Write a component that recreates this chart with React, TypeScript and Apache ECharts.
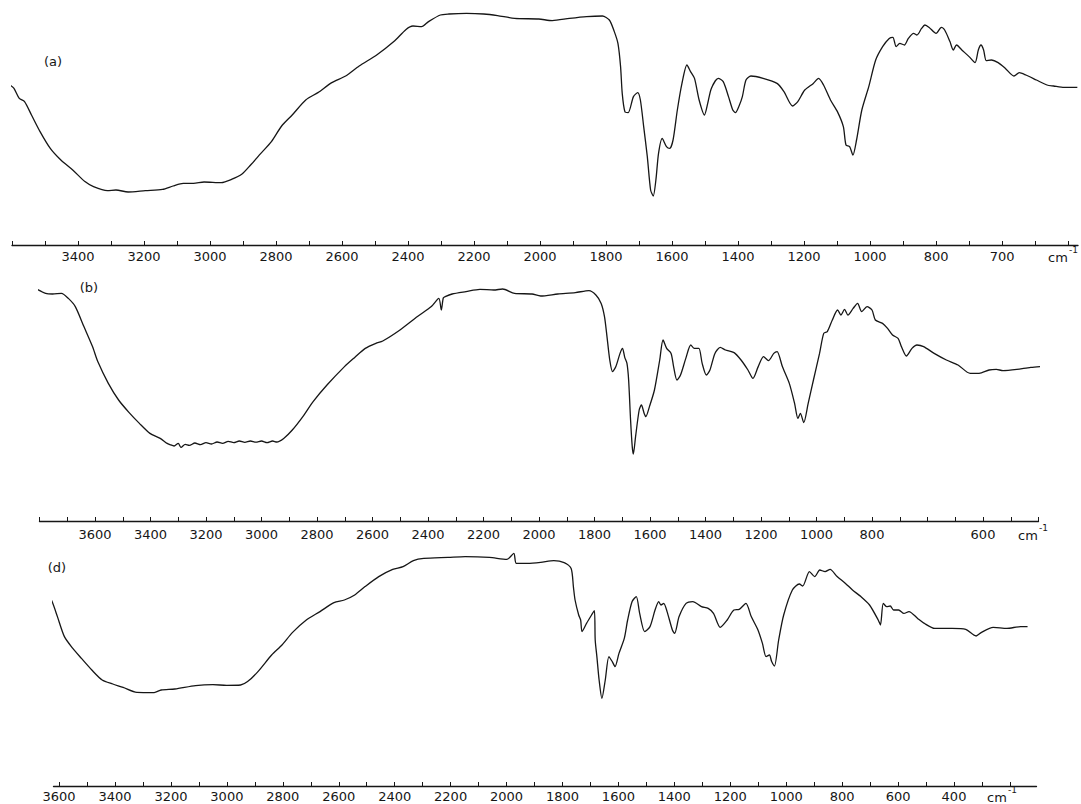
import React, { useEffect, useRef } from "react";
import * as echarts from "echarts";

// ---- tick labels (cm^-1) printed under each spectrum ----
const tickLabelsA = [3400, 3200, 3000, 2800, 2600, 2400, 2200, 2000, 1800, 1600, 1400, 1200, 1000, 800, 700];
const tickLabelsB = [3600, 3400, 3200, 3000, 2800, 2600, 2400, 2200, 2000, 1800, 1600, 1400, 1200, 1000, 800, 600];
const tickLabelsD = [3600, 3400, 3200, 3000, 2800, 2600, 2400, 2200, 2000, 1800, 1600, 1400, 1200, 1000, 800, 600, 400];

const panelNames = ["(a)", "(b)", "(d)"];

// ---- spectrum (a) ----
const wavenumbersA = [
  3606, 3594, 3578, 3562, 3541, 3515, 3484, 3452, 3416, 3379, 3353, 3311, 3285, 3248, 3196, 3144, 3112, 3081, 3050, 3018,
  2966, 2935, 2903, 2877, 2846, 2814, 2783, 2751, 2710, 2673, 2631, 2589, 2548, 2495, 2443, 2406, 2385, 2359, 2338, 2302,
  2276, 2223, 2171, 2129, 2077, 2004, 1963, 1911, 1859, 1811, 1790, 1775, 1764, 1756, 1751, 1743, 1733, 1717, 1704, 1696,
  1686, 1675, 1665, 1657, 1649, 1641, 1630, 1617, 1607, 1597, 1584, 1570, 1555, 1544, 1532, 1518, 1502, 1492, 1481, 1460,
  1445, 1429, 1416, 1408, 1397, 1387, 1376, 1361, 1324, 1282, 1261, 1235, 1219, 1198, 1172, 1156, 1141, 1120, 1099, 1081,
  1073, 1062, 1052, 1041, 1025, 1004, 983, 962, 942, 931, 921, 910, 896, 884, 868, 858, 844, 834, 821, 800,
  792, 787, 779, 774, 769, 761, 750, 741, 736, 732, 728, 724, 716, 706, 695, 682, 674, 664, 648, 632,
  622, 606, 586,
];
const transmittanceA = [
  80, 78.3, 73.3, 71.7, 65, 56.7, 48.3, 42.5, 37.5, 31.7, 29.2, 27.2, 27.5, 26.5, 27.2, 27.8, 29.5, 30.8, 30.8, 31.5,
  31.2, 32.8, 35.5, 40, 45.8, 51.7, 59.5, 65, 72.5, 76.2, 81.2, 84.5, 89.5, 95, 101.7, 107.8, 109.5, 109.2, 111.7, 115,
  115.5, 115.8, 115.5, 114.7, 113.3, 113, 112.2, 113.3, 114.2, 114.5, 112.5, 106.7, 100.8, 89.2, 75.8, 66.7, 66.2, 74.2, 76.2, 72.5,
  59.2, 44.2, 27.5, 24.5, 32.5, 45.8, 53.3, 49.2, 48.3, 52.5, 67.5, 80.8, 90, 86.7, 83.3, 72.5, 65, 70.8, 78.3, 83.3,
  81.7, 74.2, 67.5, 66.2, 69.5, 74.2, 82.5, 84.5, 83.3, 80.8, 76.7, 69.5, 71.7, 77.5, 80.8, 83.3, 80, 72.5, 66.7, 59.2,
  50, 49.2, 45, 52.5, 67.5, 79.2, 92.5, 99.2, 103.3, 103.8, 99.2, 100.8, 100, 103.3, 105.8, 105, 108.3, 110, 108.8, 105.8,
  108.8, 107.5, 101.7, 97.5, 100, 97.5, 94.2, 91.2, 97.5, 100, 97.5, 92.2, 92.5, 91.2, 88.3, 84.5, 86.2, 85, 82.5, 80,
  79.5, 78.8, 78.8,
];

// ---- spectrum (b) ----
const wavenumbersB = [
  3815, 3778, 3753, 3721, 3696, 3671, 3640, 3609, 3590, 3552, 3515, 3477, 3440, 3402, 3365, 3340, 3330, 3315, 3300, 3290,
  3275, 3260, 3240, 3220, 3200, 3180, 3160, 3140, 3120, 3100, 3080, 3060, 3040, 3020, 3000, 2980, 2960, 2945, 2920, 2889,
  2851, 2814, 2764, 2701, 2664, 2626, 2588, 2563, 2501, 2438, 2388, 2361, 2352, 2345, 2338, 2313, 2263, 2213, 2163, 2131,
  2088, 2025, 1994, 1932, 1869, 1820, 1795, 1776, 1764, 1755, 1745, 1735, 1723, 1708, 1699, 1691, 1683, 1677, 1670, 1664,
  1660, 1652, 1639, 1631, 1621, 1615, 1602, 1584, 1565, 1553, 1540, 1524, 1515, 1503, 1490, 1471, 1453, 1440, 1424, 1412,
  1397, 1384, 1366, 1347, 1328, 1297, 1272, 1247, 1229, 1210, 1191, 1173, 1154, 1142, 1123, 1098, 1079, 1067, 1058, 1046,
  1030, 1011, 989, 974, 961, 943, 924, 912, 899, 887, 868, 852, 837, 818, 800, 794, 781, 772, 763, 753,
  747, 738, 728, 719, 707, 688, 666, 645, 623, 607, 589, 576, 564, 539, 514, 484,
];
const transmittanceB = [
  116.3, 113.8, 113.5, 113.8, 111.3, 107.2, 97.2, 87.2, 79.7, 68.8, 60.5, 54.2, 48.8, 43.8, 41.3, 38.8, 38.2, 37.5, 38.8, 36.8,
  38.3, 37.8, 39, 38.2, 39.2, 38.5, 39.5, 38.8, 39.8, 39.2, 40, 39.3, 40, 39.4, 40, 39.2, 40, 39.5, 41.3, 45.5,
  52.2, 59.7, 68, 77.2, 81.8, 86.3, 88.8, 90, 95.5, 102.2, 107.2, 111.3, 105.5, 111.5, 112.2, 113.5, 114.7, 115.8, 115.5, 116,
  113.8, 113.5, 112.5, 113.5, 114.2, 115.2, 113, 108.8, 102.2, 92.2, 80.5, 74.7, 77.2, 83.8, 86.3, 81.8, 78.8, 70.5, 50.5, 37.2,
  33.5, 42.2, 55.5, 58, 53.8, 52.2, 57.2, 65.5, 80.5, 90.5, 86.3, 83.8, 77.2, 70.5, 73, 81.3, 88, 86.3, 86.3, 78.8,
  73, 75.5, 83.8, 86.8, 85.5, 84.2, 80.5, 75.5, 71.3, 77.2, 82.2, 80.2, 83.8, 84.7, 77.2, 68.8, 58.8, 51.3, 53.8, 49.2,
  58.8, 70.5, 83.8, 93.8, 94.7, 100.5, 105.5, 103, 105.8, 103, 106.3, 108.8, 104.7, 107.2, 105.5, 100.5, 98.8, 96.3, 93, 91.3,
  87.2, 82.5, 86.3, 88, 87.2, 83.8, 80.5, 78, 73.8, 73.8, 75.5, 75.8, 75.2, 75.8, 76.8, 77.5,
];

// ---- spectrum (d) ----
const wavenumbersD = [
  3662, 3643, 3625, 3606, 3581, 3551, 3520, 3483, 3446, 3408, 3371, 3322, 3260, 3235, 3186, 3112, 3050, 3001, 2951, 2926,
  2889, 2840, 2803, 2766, 2716, 2667, 2617, 2580, 2543, 2506, 2457, 2407, 2370, 2333, 2296, 2209, 2148, 2061, 1999, 1974,
  1965, 1925, 1878, 1831, 1794, 1769, 1761, 1755, 1742, 1735, 1730, 1714, 1696, 1686, 1683, 1677, 1669, 1659, 1647, 1634,
  1622, 1612, 1598, 1579, 1567, 1551, 1536, 1524, 1506, 1487, 1469, 1456, 1448, 1438, 1426, 1407, 1399, 1383, 1358, 1334,
  1303, 1279, 1260, 1236, 1211, 1187, 1168, 1144, 1125, 1101, 1085, 1072, 1060, 1052, 1042, 1027, 1009, 978, 953, 941,
  917, 898, 880, 861, 843, 818, 788, 763, 733, 702, 671, 663, 653, 641, 628, 616, 598, 579, 561, 530,
  506, 469, 407, 358, 321, 303, 260, 211, 162, 137,
];
const transmittanceD = [
  99.2, 97.2, 92.2, 84.7, 74.7, 68.8, 63.8, 58, 53, 51, 49.3, 46.8, 46.7, 48, 48.5, 50.2, 50.7, 50.3, 50.5, 52.2,
  57.2, 65.5, 70.5, 76.7, 83, 87.2, 91.7, 93, 95.5, 99.7, 104.7, 108.3, 109.7, 112.7, 113.8, 114.3, 114.7, 114.3, 113.3, 116.3,
  111.3, 111.3, 111.8, 112.7, 111.7, 108.8, 99.7, 93, 85.5, 83, 77.2, 81.3, 85.5, 87.7, 73, 64.7, 53, 43.8, 53, 64.7,
  62.2, 59.7, 66.3, 73.8, 83, 92.2, 94.7, 86.3, 77.2, 79.7, 88, 92.2, 90.5, 91.3, 87.2, 78, 76.3, 84.7, 91.3, 92.2,
  89.7, 88.8, 86.3, 79.3, 83, 88, 88.3, 91.3, 84.7, 78, 71.3, 64.7, 65.5, 62.2, 60, 73, 85.5, 98, 101, 100,
  107.2, 104.7, 108, 107.2, 108.3, 104.7, 101.3, 98, 94.7, 90.5, 83, 80.5, 91.3, 89.7, 90, 88, 88, 86.3, 87.2, 83.8,
  81.3, 78.8, 78.8, 78.3, 75, 76.7, 79.3, 78.8, 79.7, 79.7,
];

// Chart-paper position: linear in wavenumber, with the scale spread twofold below 800 cm^-1
// on the instrument used for spectra (a) and (b).
const BREAK_WN = 800;
function toPos(w: number, expanded: boolean): number {
  if (!expanded || w >= BREAK_WN) return 2000 - w;
  return 2000 - BREAK_WN + 2 * (BREAK_WN - w);
}
function fromPos(p: number, expanded: boolean): number {
  if (!expanded || p <= 2000 - BREAK_WN) return 2000 - p;
  return BREAK_WN - (p - (2000 - BREAK_WN)) / 2;
}
function stepList(from: number, to: number, step: number): number[] {
  const out: number[] = [];
  for (let v = from; v >= to; v -= step) out.push(v);
  return out;
}

type Panel = {
  wn: number[];
  t: number[];
  labels: number[];
  ticks: number[];
  expanded: boolean;
  wnMax: number;
  wnMin: number;
  grid: { left: number; width: number; top: number; height: number };
  labelMargin: number;
};

const panels: Panel[] = [
  {
    wn: wavenumbersA, t: transmittanceA, labels: tickLabelsA,
    ticks: [...stepList(3600, 800, 100), 750, 700, 650, 600],
    expanded: true, wnMax: 3600, wnMin: 585,
    grid: { left: 12, width: 1066, top: 5, height: 240 }, labelMargin: 5,
  },
  {
    wn: wavenumbersB, t: transmittanceB, labels: tickLabelsB,
    ticks: [...stepList(3800, 800, 100), 750, 700, 650, 600, 550, 500],
    expanded: true, wnMax: 3800, wnMin: 500,
    grid: { left: 39.5, width: 999, top: 281, height: 240 }, labelMargin: 7,
  },
  {
    wn: wavenumbersD, t: transmittanceD, labels: tickLabelsD,
    ticks: stepList(3600, 200, 100),
    expanded: false, wnMax: 3620, wnMin: 105,
    grid: { left: 53.5, width: 983, top: 546, height: 240 }, labelMargin: 4,
  },
];

const panelLabelPos = [
  { x: 53, y: 61 },
  { x: 89, y: 287 },
  { x: 57, y: 567 },
];
const cmPos = [
  { x: 1048, y: 257 },
  { x: 1018, y: 535 },
  { x: 987, y: 797 },
];

const INK = "#161616";
const FONT = "DejaVu Sans, sans-serif";

function buildOption(): echarts.EChartsOption {
  const grids = panels.map((p) => ({ ...p.grid, containLabel: false }));
  const xAxes = panels.map((p, i) => ({
    type: "value" as const,
    gridIndex: i,
    min: toPos(p.wnMax, p.expanded),
    max: toPos(p.wnMin, p.expanded),
    splitLine: { show: false },
    axisLine: { show: true, onZero: false, lineStyle: { color: INK, width: 1.3 } },
    axisTick: {
      show: true,
      inside: true,
      length: 4,
      customValues: p.ticks.map((w) => toPos(w, p.expanded)),
      lineStyle: { color: INK, width: 1 },
    },
    axisLabel: {
      show: true,
      margin: p.labelMargin,
      customValues: p.labels.map((w) => toPos(w, p.expanded)),
      formatter: (v: number) => String(Math.round(fromPos(v, p.expanded))),
      color: INK,
      fontFamily: FONT,
      fontSize: 13,
    },
  }));
  const yAxes = panels.map((_, i) => ({
    type: "value" as const,
    gridIndex: i,
    min: 0,
    max: 120,
    show: false,
  }));
  const series = panels.map((p, i) => ({
    type: "line" as const,
    xAxisIndex: i,
    yAxisIndex: i,
    data: p.wn.map((w, k) => [toPos(w, p.expanded), p.t[k]]),
    showSymbol: false,
    symbol: "none",
    smooth: 0.25,
    clip: false,
    lineStyle: { color: INK, width: 1.3 },
  }));
  const graphic: any[] = [];
  panelNames.forEach((name, i) => {
    graphic.push({
      type: "text",
      x: panelLabelPos[i].x,
      y: panelLabelPos[i].y,
      style: { text: name, fill: INK, font: `13px ${FONT}`, align: "center", verticalAlign: "middle" },
    });
    graphic.push({
      type: "text",
      x: cmPos[i].x,
      y: cmPos[i].y,
      style: { text: "cm", fill: INK, font: `13px ${FONT}`, align: "left", verticalAlign: "middle" },
    });
    graphic.push({
      type: "text",
      x: cmPos[i].x + 21,
      y: cmPos[i].y - 7,
      style: { text: "-1", fill: INK, font: `9px ${FONT}`, align: "left", verticalAlign: "middle" },
    });
  });
  return {
    animation: false,
    backgroundColor: "#ffffff",
    grid: grids,
    xAxis: xAxes,
    yAxis: yAxes,
    series,
    graphic,
  } as echarts.EChartsOption;
}

export default function App() {
  const ref = useRef<HTMLDivElement>(null);
  useEffect(() => {
    if (!ref.current) return;
    const chart = echarts.init(ref.current, undefined, { renderer: "svg" });
    chart.setOption(buildOption());
    return () => chart.dispose();
  }, []);
  return (
    <div
      ref={ref}
      style={{ position: "fixed", left: 0, top: 0, width: 1081, height: 804, background: "#ffffff" }}
    />
  );
}
